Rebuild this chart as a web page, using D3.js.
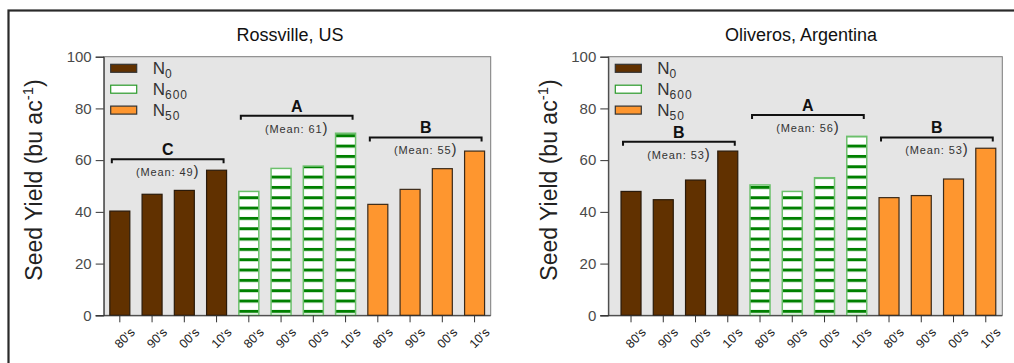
<!DOCTYPE html>
<html>
<head>
<meta charset="utf-8">
<script src="https://cdn.jsdelivr.net/npm/d3@7"></script>
<style>
  html, body { margin: 0; padding: 0; background: #fff; }
  svg { display: block; font-family: "Liberation Sans", Arial, sans-serif; }
</style>
</head>
<body>
<svg id="chart" width="1014" height="363"></svg>
<script>
// Decades sampled in each nitrogen treatment
const decades = ["80's", "90's", "00's", "10's"];
const treatments = ["N0", "N600", "N50"];
const legendSubs = ["0", "600", "50"];
const yTicks = [0, 20, 40, 60, 80, 100];

// Seed yield (bu/ac) by treatment, one value per decade
const rossN0   = [40.3, 46.8, 48.3, 56.1];
const rossN600 = [47.9, 56.8, 57.7, 70.4];
const rossN50  = [42.9, 48.7, 56.7, 63.5];

const oliN0   = [47.9, 44.7, 52.3, 63.5];
const oliN600 = [50.4, 47.9, 53.2, 69.2];
const oliN50  = [45.5, 46.3, 52.7, 64.6];

// Treatment-group significance letters, group means and bracket level (yield units)
const rossLetters = ["C", "A", "B"];
const rossMeans   = [49, 61, 55];
const rossLevels  = [60.3, 77.2, 68.8];

const oliLetters = ["B", "A", "B"];
const oliMeans   = [53, 56, 53];
const oliLevels  = [67.1, 77.5, 68.8];

const colors = { N0: "#613100", N600: "#ffffff", N50: "#fe962f" };
const strokes = { N0: "#2a1a0a", N600: "#6cc06c", N50: "#3a2a1a" };

const svg = d3.select("#chart");

// Horizontal stripe fill for the N600 bars
const defs = svg.append("defs");
const pat = defs.append("pattern")
  .attr("id", "stripes")
  .attr("patternUnits", "userSpaceOnUse")
  .attr("width", 10).attr("height", 10.33);
pat.append("rect").attr("width", 10).attr("height", 10.33).attr("fill", "#fff");
pat.append("rect").attr("y", 0).attr("width", 10).attr("height", 3).attr("fill", "#008000");

// Outer figure frame
svg.append("rect")
  .attr("x", 8.5).attr("y", 10.5).attr("width", 1020).attr("height", 370)
  .attr("fill", "none").attr("stroke", "#2a2a2a").attr("stroke-width", 2.2);

function buildRows(n0, n600, n50) {
  const rows = [];
  [n0, n600, n50].forEach((vals, ti) => {
    vals.forEach((v, di) => {
      rows.push({ key: ti + "-" + di, treatment: treatments[ti], decade: decades[di], value: v, group: ti });
    });
  });
  return rows;
}

function drawPanel(opt) {
  const g = svg.append("g");
  const y = d3.scaleLinear().domain([0, 100]).range([315.3, 56.7]);
  const x = d3.scaleBand()
    .domain(opt.rows.map(d => d.key))
    .range([opt.bandStart, opt.bandEnd])
    .paddingInner(0.38).paddingOuter(0.19);

  // plot background
  g.append("rect")
    .attr("x", opt.frameLeft).attr("y", y(100))
    .attr("width", opt.frameRight - opt.frameLeft).attr("height", y(0) - y(100))
    .attr("fill", "#e5e5e5").attr("stroke", "#7a7a7a").attr("stroke-width", 1);

  // title
  g.append("text")
    .attr("x", opt.titleX).attr("y", 41)
    .attr("text-anchor", "middle")
    .attr("font-size", 18).attr("fill", "#111")
    .text(opt.title);

  // bars
  g.selectAll("rect.bar").data(opt.rows).enter().append("rect")
    .attr("class", "bar")
    .attr("x", d => x(d.key))
    .attr("y", d => y(d.value))
    .attr("width", x.bandwidth())
    .attr("height", d => y(0) - y(d.value))
    .attr("fill", d => d.treatment === "N600" ? "url(#stripes)" : colors[d.treatment])
    .attr("stroke", d => strokes[d.treatment])
    .attr("stroke-width", d => d.treatment === "N600" ? 1.5 : 1.2);

  // y axis
  const yAxis = d3.axisLeft(y).tickValues(yTicks).tickSize(8).tickPadding(4);
  const ya = g.append("g").attr("transform", `translate(${opt.frameLeft},0)`).call(yAxis);
  ya.select(".domain").attr("stroke", "#333");
  ya.selectAll(".tick line").attr("stroke", "#333");
  ya.selectAll(".tick text").attr("font-size", 15).attr("fill", "#4a4a4a")
    .attr("font-family", "\"Liberation Sans\", Arial, sans-serif");

  // x axis
  const xAxis = d3.axisBottom(x).tickSize(7).tickFormat(k => opt.rows.find(r => r.key === k).decade);
  const xa = g.append("g").attr("transform", `translate(0,${y(0)})`).call(xAxis);
  xa.select(".domain").attr("d", `M${opt.frameLeft - 8},0.5H${opt.frameRight}`).attr("stroke", "#333");
  xa.selectAll(".tick line").attr("stroke", "#333");
  xa.selectAll(".tick text")
    .attr("font-size", 12.5).attr("fill", "#222")
    .attr("font-family", "\"Liberation Sans\", Arial, sans-serif")
    .attr("text-anchor", "end")
    .attr("transform", "translate(7,9) rotate(-45)")
    .attr("dy", "0.35em").attr("y", 8).attr("x", 0);

  // y-axis title
  const yt = g.append("text")
    .attr("transform", `translate(${opt.yTitleX},${opt.yTitleY}) rotate(-90)`)
    .attr("text-anchor", "middle")
    .attr("font-size", 23).attr("fill", "#222");
  yt.append("tspan").text("Seed Yield (bu ac");
  yt.append("tspan").attr("font-size", 15).attr("dy", -9).text("-1");
  yt.append("tspan").attr("dy", 9).text(")");

  // legend
  const lg = g.append("g");
  treatments.forEach((t, i) => {
    const ly = 68.3 + i * 20.9;
    lg.append("rect")
      .attr("x", opt.frameLeft + 7).attr("y", ly - 4)
      .attr("width", 26).attr("height", 8)
      .attr("fill", colors[t])
      .attr("stroke", t === "N600" ? "#2a9a2a" : "#333").attr("stroke-width", 1.2);
    const lt = lg.append("text")
      .attr("x", opt.frameLeft + 49).attr("y", ly + 6)
      .attr("font-size", 17).attr("fill", "#333");
    lt.append("tspan").text("N");
    lt.append("tspan").attr("font-size", 12).attr("dy", 4).attr("letter-spacing", 1).text(legendSubs[i]);
  });

  // group brackets with significance letter and mean
  opt.letters.forEach((letter, gi) => {
    const keys = opt.rows.filter(r => r.group === gi).map(r => r.key);
    const x0 = x(keys[0]) + 2;
    const x1 = x(keys[keys.length - 1]) + x.bandwidth() - 3;
    const by = y(opt.levels[gi]);
    g.append("path")
      .attr("d", `M${x0},${by + 4}V${by}H${x1}V${by + 4}`)
      .attr("fill", "none").attr("stroke", "#111").attr("stroke-width", 2);
    g.append("text")
      .attr("x", (x0 + x1) / 2).attr("y", by - 4)
      .attr("text-anchor", "middle")
      .attr("font-size", 16).attr("font-weight", "bold").attr("fill", "#111")
      .text(letter);
    const mt = g.append("text")
      .attr("x", (x0 + x1) / 2).attr("y", by + 17)
      .attr("text-anchor", "middle")
      .attr("font-size", 11).attr("fill", "#333").attr("letter-spacing", 0.9);
    mt.append("tspan").text(`(Mean: ${opt.means[gi]}`);
    mt.append("tspan").attr("font-size", 15).attr("dy", 0).text(")");
  });
}

drawPanel({
  title: "Rossville, US", titleX: 290,
  rows: buildRows(rossN0, rossN600, rossN50),
  frameLeft: 103.7, frameRight: 490.7,
  bandStart: 103.7, bandEnd: 490.7,
  yTitleX: 42, yTitleY: 180,
  letters: rossLetters, means: rossMeans, levels: rossLevels
});

drawPanel({
  title: "Oliveros, Argentina", titleX: 801,
  rows: buildRows(oliN0, oliN600, oliN50),
  frameLeft: 608.3, frameRight: 1002.3,
  bandStart: 614.9, bandEnd: 1001.9,
  yTitleX: 557, yTitleY: 180,
  letters: oliLetters, means: oliMeans, levels: oliLevels
});
</script>
</body>
</html>
